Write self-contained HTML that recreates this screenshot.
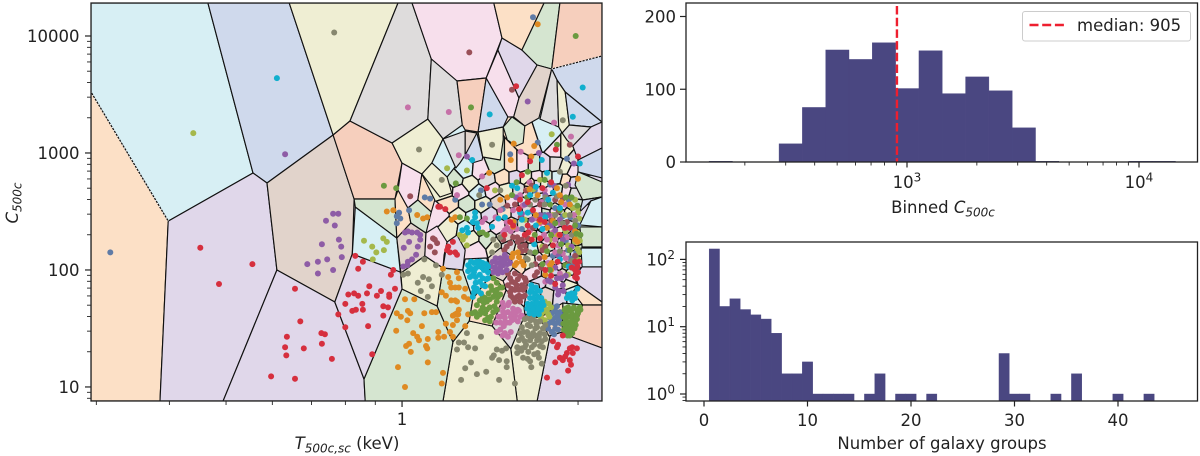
<!DOCTYPE html>
<html>
<head>
<meta charset="utf-8">
<title>Voronoi binning chart</title>
<style>
html,body{margin:0;padding:0;background:#fff;}
#chart{display:block;width:1200px;height:456px;font-family:"DejaVu Sans","Liberation Sans",sans-serif;fill:#222;}
text{font-size:16.5px;}
</style>
</head>
<body>
<svg id="chart" xmlns="http://www.w3.org/2000/svg" width="1200" height="456" viewBox="0 0 1200 456">
<defs><clipPath id="plot-clip"><rect x="91" y="3" width="511" height="398"/></clipPath></defs>
<g id="scatter-panel"></g>
<g id="hist-top"></g>
<g id="hist-bottom"></g>
<text x="347" y="449" text-anchor="middle"><tspan font-style="italic">T</tspan><tspan font-size="12" dy="3.5" font-style="italic">500c,sc</tspan><tspan dy="-3.5"> (keV)</tspan></text>
<text transform="translate(18,203) rotate(-90)" text-anchor="middle"><tspan font-style="italic">C</tspan><tspan font-size="12" dy="3.5" font-style="italic">500c</tspan></text>
<text x="943" y="213" text-anchor="middle">Binned <tspan font-style="italic">C</tspan><tspan font-size="12" dy="3.5" font-style="italic">500c</tspan></text>
<text x="942" y="449" text-anchor="middle">Number of galaxy groups</text>
</svg>
<script>
// ---------- data (log10 T in keV, log10 C500c) ----------
const palette=['#d7eff4','#cfd9ec','#efeed3','#fce0c6','#e0d7ea','#e1d3cb','#f6cfbd','#dedcdc','#f7dfec','#d5e5d0'];
const xTicksLeft=[1];
const xMinorLeft=[0.3,0.4,0.5,0.6,0.7,0.8,0.9,2];
const yTicksLeft=[10,100,1000,10000];
const yTickLabelsLeft=['10','100','1000','10000'];
const yMinorLeft=[8,9,20,30,40,50,60,70,80,90,200,300,400,500,600,700,800,900,2000,3000,4000,5000,6000,7000,8000,9000];
// cells: [palette index, [logT, logC, ...]]
const largeCells=[
[0,[-.532,4.282,-.332,4.282,-.255,2.829,-.400,2.418,-.532,3.521]],
[1,[-.332,4.282,-.193,4.282,-.118,3.154,-.231,2.743,-.255,2.829]],
[2,[-.193,4.282,-.007,4.282,-.089,3.273,-.118,3.154]],
[3,[-.532,3.521,-.400,2.418,-.414,.880,-.532,.880]],
[4,[-.400,2.418,-.255,2.829,-.231,2.743,-.214,2.0,-.306,.880,-.414,.880]],
[5,[-.231,2.743,-.118,3.154,-.082,2.607,-.085,2.137,-.115,1.726,-.214,2.0]],
[4,[-.214,2.0,-.115,1.726,-.065,1.068,-.063,.880,-.306,.880]],
[6,[-.118,3.154,-.089,3.273,-.017,3.085,0,2.914,-.012,2.607,-.082,2.607]],
[7,[-.007,4.282,.017,4.282,.050,3.803,.044,3.290,-.017,3.085,-.089,3.273]],
[8,[.017,4.282,.157,4.282,.171,3.983,.144,3.641,.094,3.615,.050,3.803]],
[7,[.050,3.803,.094,3.615,.103,3.239,.070,3.120,.044,3.290]],
[6,[.094,3.615,.144,3.641,.130,3.179,.108,3.197,.103,3.239]],
[1,[.144,3.641,.181,3.308,.173,3.222,.130,3.179]],
[8,[.164,3.880,.200,3.470,.191,3.308,.181,3.308,.144,3.641]],
[4,[.171,3.983,.205,3.880,.231,3.752,.200,3.470,.164,3.880]],
[3,[.157,4.282,.243,4.282,.205,3.880,.171,3.983]],
[9,[.243,4.282,.270,4.282,.256,3.718,.231,3.752,.205,3.880]],
[6,[.270,4.282,.342,4.282,.342,3.829,.256,3.718]],
[1,[.256,3.718,.342,3.829,.342,3.265,.279,3.521,.265,3.624]],
[5,[.231,3.752,.256,3.718,.234,3.299,.210,3.231,.191,3.308,.200,3.470]],
[7,[.256,3.718,.265,3.624,.268,3.222,.236,3.290]],
[2,[.265,3.624,.279,3.521,.286,3.239,.274,3.171,.268,3.222]],
[1,[.279,3.521,.342,3.265,.323,3.222,.286,3.239]],
[4,[.342,3.265,.342,3.043,.301,2.940,.292,3.060,.323,3.222]],
[7,[.286,3.239,.323,3.222,.292,3.060,.282,3.111,.274,3.171]],
[1,[.342,3.043,.342,2.786,.301,2.838,.301,2.940]],
[9,[.301,2.838,.342,2.752,.342,2.624,.309,2.598,.296,2.726]],
[1,[.309,2.598,.342,2.624,.323,2.590,.304,2.496]],
[0,[.323,2.590,.342,2.624,.342,2.368,.304,2.385]],
[9,[.304,2.368,.342,2.368,.342,2.196,.308,2.196]],
[0,[.306,2.188,.342,2.188,.342,2.026,.308,2.026]],
[4,[.308,2.026,.342,2.026,.342,1.726,.301,1.872,.297,1.957]],
[3,[.301,1.872,.342,1.726,.342,1.701,.309,1.701,.292,1.812]],
[9,[.275,1.718,.309,1.701,.291,1.427,.274,1.470]],
[6,[.309,1.701,.342,1.701,.342,1.333,.291,1.427]],
[4,[.253,1.436,.274,1.470,.291,1.427,.342,1.333,.342,.880,.231,.880]],
[2,[.210,1.615,.236,1.590,.253,1.436,.231,.880,.197,.880,.186,1.325]],
[7,[.178,1.829,.209,1.684,.210,1.615,.186,1.325,.154,1.521]],
[2,[.115,1.564,.154,1.521,.186,1.325,.197,.880,.070,.880,.087,1.385]],
[9,[0,1.837,.060,1.692,.087,1.385,.070,.880,-.063,.880,-.065,1.068]],
[9,[.070,2.017,.104,2.0,.121,1.752,.115,1.564,.087,1.385,.060,1.692]],
[2,[.039,2.120,.070,2.017,.060,1.692,0,1.837,-.002,1.974]],
[4,[-.085,2.137,-.003,1.983,0,1.837,-.065,1.068,-.115,1.726]],
[0,[-.080,2.538,-.009,2.273,-.003,1.983,-.085,2.137]],
[9,[-.082,2.607,-.012,2.607,-.009,2.273,-.080,2.538]],
[5,[-.009,2.273,.015,2.402,.041,2.316,.039,2.120,-.002,1.974]],
[3,[-.007,2.684,-.012,2.607,-.009,2.273,.015,2.402,.010,2.530]],
[8,[0,2.914,.034,2.820,.027,2.598,.010,2.530,-.007,2.684]],
[3,[.034,2.820,.056,2.598,.050,2.496,.027,2.598]],
[9,[.010,2.530,.027,2.598,.050,2.496,.041,2.316,.015,2.402]],
[2,[-.017,3.085,.044,3.290,.070,3.120,.051,2.914,.034,2.820,0,2.914]],
[0,[.070,3.120,.092,2.889,.077,2.795,.051,2.914]],
[2,[.051,2.914,.077,2.795,.085,2.658,.065,2.624,.034,2.820]],
[7,[.070,3.120,.108,3.188,.108,2.983,.099,2.914,.092,2.872]],
[5,[.108,3.188,.128,3.171,.125,3.128,.108,2.983]],
[1,[.128,3.171,.138,2.966,.137,2.940,.120,2.914,.108,2.983]],
[2,[.130,3.179,.173,3.222,.173,3.111,.168,2.940,.138,2.966]],
[9,[.173,3.222,.188,3.308,.210,3.231,.207,3.085,.195,3.060,.180,3.111]],
[8,[.041,2.316,.060,2.376,.077,2.239,.072,2.128,.070,2.017,.039,2.120]],
[4,[.077,2.239,.094,2.299,.108,2.171,.104,2.0,.070,2.017]],
[0,[.108,2.094,.145,2.102,.152,1.957,.121,1.752,.104,2.0]],
[3,[.152,1.957,.178,1.829,.154,1.521,.115,1.564,.121,1.752]],
[5,[.168,2.188,.186,2.128,.190,2.017,.173,1.906,.152,1.957,.147,2.102]],
[8,[.173,1.906,.190,2.017,.215,1.923,.209,1.684,.178,1.829]],
[1,[.215,1.906,.234,1.880,.239,1.744,.236,1.590,.210,1.624,.209,1.684]],
[2,[.239,1.744,.258,1.667,.236,1.590]],
[3,[.258,1.667,.275,1.718,.274,1.470,.251,1.436,.236,1.590]]
];
const dashedRidges=[[-.532,3.521,-.400,2.418],[.256,3.718,.342,3.829]];
// generators of the small cells in the dense core: logT, logC, palette index
const coreSites=[
[.222,3.07,3],[.246,3.11,0],[.263,3.03,8],[.280,3.03,2],[.296,2.96,7],[.188,2.90,3],[.205,2.90,8],[.162,2.90,9],[.108,2.85,0],[.133,2.84,8],[.227,2.90,9],[.244,2.90,4],[.262,2.90,7],[.279,2.87,2],[.292,2.84,8],
[.091,2.77,9],[.116,2.74,2],[.145,2.77,7],[.173,2.79,3],[.193,2.79,4],[.212,2.79,2],[.231,2.79,8],[.248,2.79,9],[.265,2.79,0],[.280,2.77,3],[.294,2.75,4],
[.074,2.68,2],[.099,2.67,8],[.130,2.66,0],[.154,2.68,8],[.179,2.68,2],[.200,2.68,7],[.219,2.68,3],[.236,2.68,4],[.251,2.68,8],[.267,2.68,9],[.280,2.67,8],[.294,2.65,7],
[.082,2.56,3],[.111,2.56,9],[.138,2.56,2],[.166,2.58,5],[.188,2.59,8],[.209,2.59,0],[.226,2.59,8],[.241,2.59,2],[.255,2.59,1],[.268,2.59,4],[.280,2.58,3],[.292,2.57,9],
[.065,2.47,8],[.096,2.46,2],[.121,2.45,0],[.150,2.47,4],[.176,2.49,3],[.197,2.49,4],[.215,2.50,7],[.232,2.50,8],[.246,2.50,9],[.260,2.50,8],[.272,2.50,5],[.284,2.50,2],[.296,2.49,4],
[.082,2.38,2],[.108,2.36,0],[.137,2.36,8],[.164,2.38,8],[.188,2.39,3],[.207,2.39,9],[.224,2.39,0],[.239,2.39,8],[.253,2.39,2],[.265,2.39,4],[.277,2.39,8],[.287,2.39,7],[.299,2.38,9],
[.116,2.27,2],[.147,2.26,9],[.176,2.27,5],[.202,2.28,8],[.222,2.29,3],[.238,2.29,4],[.251,2.29,7],[.263,2.29,8],[.275,2.29,9],[.287,2.29,1],[.299,2.27,0],
[.126,2.17,8],[.159,2.21,2],[.181,2.21,7],[.205,2.18,2],[.224,2.17,0],[.241,2.19,3],[.255,2.19,9],[.267,2.19,4],[.279,2.19,8],[.291,2.19,2],[.301,2.17,9],
[.202,2.09,3],[.219,2.09,2],[.236,2.10,8],[.251,2.09,4],[.263,2.07,7],[.275,2.09,8],[.287,2.08,1],[.299,2.07,4],
[.231,1.98,8],[.246,1.98,9],[.262,1.98,1],[.275,1.98,5],[.287,1.98,9],[.301,1.96,4],
[.238,1.90,4],[.255,1.88,7],[.268,1.89,8],[.284,1.89,2],[.248,1.80,5],[.270,1.79,4],[.291,1.80,0],
[.248,2.54,8],[.262,2.54,2],[.275,2.54,4],[.289,2.54,9],
[.241,2.45,7],[.255,2.45,8],[.267,2.45,5],[.279,2.45,0],[.291,2.45,2],
[.244,2.34,4],[.258,2.34,9],[.270,2.34,2],[.282,2.34,8],[.294,2.34,1],
[.248,2.24,8],[.260,2.24,3],[.272,2.24,7],[.284,2.24,4],[.296,2.24,9],
[.246,2.14,2],[.258,2.14,8],[.270,2.14,1],[.282,2.14,9],[.294,2.14,4],
[.244,2.03,5],[.256,2.03,4],[.268,2.03,8],[.280,2.03,7],[.292,2.03,1],
[.262,1.93,9],[.274,1.93,4],[.287,1.93,8],
[.214,2.63,8],[.226,2.63,9],[.238,2.63,0],[.221,2.74,3],[.231,2.74,4],[.243,2.74,2]
];
// scatter points per colour: logT, logC pairs
const redPoints=[-.345,2.19,-.256,2.05,-.313,1.88,-.183,1.84,-.174,1.56,-.197,1.43,-.200,1.34,-.198,1.27,-.168,1.33,-.138,1.46,-.132,1.45,-.137,1.37,-.120,1.24,-.224,1.09,-.183,1.07,-.109,1.62,-.097,1.51,-.080,2.12,-.067,2.07,-.075,2.01,-.015,2.00,-.019,1.96,-.056,1.86,-.036,1.82,-.012,1.84,-.092,1.79,-.082,1.80,-.075,1.78,-.060,1.80,-.043,1.78,-.022,1.79,-.022,1.77,-.097,1.71,-.068,1.71,-.067,1.66,-.079,1.66,-.085,1.65,-.032,1.69,-.024,1.68,-.032,1.61,-.058,1.52,-.051,1.28,.065,2.54,.074,2.52,.079,2.20,.087,2.24,.091,2.15,.082,2.15,.094,2.13,.077,2.17,.258,1.39,.267,1.36,.265,1.34,.291,1.34,.299,1.33,.282,1.29,.292,1.29,.287,1.33,.270,1.25,.262,1.21,.275,1.23,.287,1.23,.289,1.19,.284,1.14,.248,1.08,.267,1.04,.275,1.44,.279,1.26,.296,2.00,.299,1.93,.301,1.98,.303,2.07,.296,2.07,.195,3.57,.301,2.97,.263,3.03,.219,2.93,.205,2.81,.145,2.70,.062,2.54,.202,2.60,.224,2.51,.244,2.41,.215,2.38,.270,2.30,.258,2.21,.236,2.27,.287,2.36,.185,2.41,.210,2.30,.216,2.32,.222,2.26,.175,2.30,.190,2.38,.215,2.58,.240,2.70,.278,2.36,.266,2.07,.262,1.88,.255,1.95,.236,2.43,.255,2.75,.290,2.02,.300,2.03,.298,1.97,.296,1.94,.245,2.00,.200,2.52];
const orangePoints=[-.026,2.50,-.015,2.51,.026,2.47,.036,2.44,.043,2.45,.005,1.75,.021,1.75,-.009,1.63,-.002,1.60,.010,1.65,.014,1.63,.038,1.63,.051,1.64,.058,1.64,.009,1.57,.034,1.52,-.010,1.48,.019,1.46,.026,1.43,.029,1.40,.044,1.41,.062,1.47,.062,1.42,.072,1.43,.012,1.37,.007,1.35,.041,1.35,.043,1.33,.015,1.30,.044,1.21,-.007,1.17,.070,1.12,.068,1.03,.005,1.00,.070,2.01,.094,1.98,.079,1.94,.097,1.93,.082,1.89,.091,1.85,.097,1.85,.108,1.84,.084,1.85,.068,1.81,.075,1.78,.106,1.77,.084,1.74,.094,1.73,.091,1.74,.113,1.75,.097,1.66,.094,1.63,.091,1.62,.096,1.62,.087,1.61,.113,1.62,.094,1.57,.087,1.53,.075,1.54,.108,1.52,.082,1.47,.087,1.43,.232,4.10,.191,3.08,.226,3.06,.186,2.94,.301,2.78,.149,2.83,.265,2.70,.221,2.97,.198,2.15,.188,2.11,.205,2.07,.193,2.04,.256,2.06,.190,2.37,.248,2.36,.091,2.45,.085,2.43,.191,2.41,.253,2.04,.244,2.11,.168,2.60,.270,2.64,.232,2.64,.287,2.56,.296,2.26,.229,2.47,.272,2.58,.190,2.14,.200,2.11,.196,2.06,.208,2.04,.258,2.42,.235,2.41,.218,2.69,.180,2.62,.296,2.33,.300,2.24,.255,2.00,.268,2.30,.245,1.96];
const olivePoints=[-.116,4.03,.029,3.03,.068,2.77,.154,3.07,.275,3.28,.168,2.68,.132,2.64,.038,2.09,.058,2.04,.002,1.96,.010,1.97,.068,1.96,.036,1.94,.046,1.92,.027,1.89,.051,1.86,.032,1.82,.044,1.77,.111,1.46,.135,1.43,.097,1.38,.106,1.38,.113,1.34,.125,1.33,.094,1.32,.162,1.32,.171,1.31,.178,1.33,.157,1.27,.154,1.25,.166,1.23,.179,1.22,.118,1.21,.108,1.16,.144,1.13,.128,1.11,.101,1.06,.166,1.06,.193,1.03,.179,1.17,.214,1.59,.224,1.60,.236,1.56,.205,1.51,.215,1.53,.231,1.51,.241,1.50,.202,1.46,.214,1.47,.224,1.46,.236,1.46,.244,1.45,.205,1.42,.219,1.40,.231,1.40,.239,1.39,.197,1.34,.210,1.34,.222,1.34,.241,1.34,.197,1.29,.232,1.29,.207,1.25,.219,1.22,.239,1.20,.221,1.17,.229,1.56,.219,1.52,.229,1.44,.210,1.39,.156,2.26,.162,2.21,.168,2.28,.154,2.15,.219,2.15,.215,2.09,.222,2.04,.287,2.47,.270,2.84,.244,2.56,.219,2.56,.262,2.47,.210,1.58,.220,1.57,.228,1.50,.208,1.47,.216,1.44,.222,1.43,.234,1.43,.245,1.41,.200,1.40,.212,1.36,.226,1.36,.236,1.35,.204,1.31,.216,1.30,.226,1.28,.234,1.25,.215,1.24,.230,1.54,.245,1.53,.205,1.33,.275,2.40,.290,2.30,.296,2.42,.265,2.63,.280,2.72,.228,2.60,.212,2.10,.245,2.62,.291,2.08,.270,2.16];
const pinkPoints=[.010,3.39,.080,3.35,.097,2.98,.260,3.26,.289,3.14,.203,3.01,.137,2.80,.094,2.64,.173,1.68,.181,1.70,.190,1.67,.198,1.66,.205,1.61,.173,1.64,.181,1.64,.193,1.61,.168,1.60,.176,1.59,.188,1.57,.198,1.56,.168,1.55,.179,1.55,.168,1.49,.176,1.46,.181,1.43,.162,1.47,.202,1.60,.164,1.66,.176,2.34,.173,2.32,.179,2.41,.137,2.41,.142,2.44,.219,2.34,.236,2.40,.258,2.32,.270,2.40,.282,2.28,.248,2.26,.267,2.21,.262,2.15,.190,2.51,.168,2.51,.202,2.64,.279,2.56,.244,2.68,.183,1.72,.186,1.60,.195,1.64,.176,1.63,.184,1.55,.192,1.58,.174,1.52,.190,1.63,.200,1.65,.172,1.72,.165,1.60,.172,1.44,.186,1.47,.175,1.55,.161,1.55,.180,2.36,.186,2.33,.196,2.35,.160,2.45,.226,2.44,.243,2.30,.262,2.26,.275,2.14,.255,2.46,.238,2.58,.206,2.55,.218,2.75,.280,2.10,.270,1.97,.245,1.90,.294,2.47,.250,2.06];
const brownPoints=[.115,3.86,.188,3.54,.014,2.63,.053,2.27,.056,2.26,.060,2.23,.056,2.15,.048,2.20,.181,1.97,.193,1.97,.202,1.95,.210,1.93,.185,1.93,.193,1.89,.205,1.87,.181,1.87,.193,1.83,.207,1.83,.185,1.81,.197,1.77,.205,1.77,.193,1.73,.202,1.73,.205,2.26,.198,2.24,.197,2.28,.210,2.21,.202,2.20,.173,2.26,.185,2.23,.179,2.20,.224,2.36,.231,1.98,.238,2.02,.227,1.95,.212,2.68,.193,2.56,.262,2.60,.236,2.56,.282,2.41,.287,3.07,.188,1.90,.198,1.92,.212,1.90,.200,1.83,.210,1.85,.187,1.84,.200,1.78,.190,1.76,.210,1.78,.186,1.78,.196,1.87,.190,2.28,.215,2.27,.212,2.17,.205,2.16,.175,2.17,.240,2.17,.235,2.10,.255,2.42,.268,2.50,.275,2.61,.245,2.20,.228,2.05,.284,2.05,.296,2.12,.180,2.55,.203,2.45,.222,2.72];
const greenPoints=[.118,3.39,-.031,2.72,-.010,2.70,.297,4.00,.092,2.74,.265,3.07,.156,1.93,.162,1.89,.154,1.83,.162,1.83,.171,1.85,.156,1.77,.164,1.77,.138,1.77,.133,1.74,.145,1.73,.128,1.70,.138,1.68,.162,1.73,.125,1.64,.133,1.62,.142,1.63,.147,1.59,.156,1.64,.162,1.66,.150,1.56,.284,1.68,.294,1.68,.304,1.68,.280,1.62,.291,1.62,.301,1.63,.280,1.57,.291,1.57,.299,1.58,.280,1.52,.291,1.52,.297,1.53,.280,1.47,.291,1.46,.287,1.44,.285,1.65,.296,1.61,.285,1.55,.285,1.50,.296,1.56,.138,2.32,.133,2.32,.145,2.30,.253,2.56,.296,2.38,.287,2.17,.279,2.04,.244,2.77,.215,2.84,.188,2.64,.227,2.30,.270,2.51,.253,2.00,.099,2.45,.111,2.44,.168,1.79,.152,1.86,.160,1.80,.140,1.72,.150,1.75,.135,1.65,.145,1.66,.128,1.60,.120,1.63,.142,1.57,.152,1.60,.158,1.69,.148,1.80,.142,1.76,.168,1.85,.150,1.68,.280,1.67,.290,1.66,.300,1.65,.276,1.60,.288,1.60,.298,1.60,.276,1.54,.290,1.54,.283,1.60,.277,1.49,.288,1.48,.295,1.50,.283,1.44,.278,1.66,.305,1.66,.300,2.55,.255,2.30,.240,2.05,.228,2.15,.272,2.22,.290,2.62,.262,2.40,.214,2.62,.196,2.75,.280,2.62,.298,2.31,.305,2.30,.248,2.16];
const cyanPoints=[-.214,3.64,.150,3.33,.292,3.31,.309,3.56,.304,2.91,.120,2.94,.239,2.94,.248,2.83,.229,2.71,.197,2.70,.113,2.04,.123,2.06,.133,2.07,.144,2.05,.113,1.99,.125,2.01,.140,2.00,.147,1.98,.116,1.94,.133,1.96,.144,1.92,.126,1.89,.138,1.87,.130,1.82,.121,1.77,.118,2.01,.130,2.03,.221,1.87,.229,1.85,.219,1.81,.227,1.80,.236,1.82,.219,1.76,.229,1.74,.238,1.76,.215,1.71,.226,1.69,.236,1.70,.219,1.65,.229,1.64,.238,1.66,.214,1.67,.103,2.34,.111,2.36,.113,2.32,.125,2.45,.128,2.40,.121,2.41,.154,2.37,.287,1.77,.292,1.77,.291,1.74,.282,1.76,.202,2.49,.219,2.64,.229,2.38,.250,2.60,.270,2.09,.188,2.72,.118,2.07,.128,2.07,.138,2.06,.147,2.03,.116,2.02,.123,1.98,.137,2.02,.144,2.00,.120,1.95,.126,1.94,.138,1.93,.147,1.93,.123,1.85,.133,1.90,.142,1.86,.128,1.84,.135,1.80,.123,1.81,.221,1.83,.231,1.82,.224,1.76,.233,1.77,.222,1.71,.231,1.72,.240,1.73,.224,1.66,.233,1.67,.242,1.70,.219,1.70,.226,1.62,.234,1.62,.218,1.63,.205,2.43,.176,2.45,.215,2.49,.245,2.45,.258,2.66,.240,2.35,.285,2.03,.300,1.84,.295,1.80,.290,1.80,.285,1.79,.296,1.76,.270,2.53,.226,2.22,.165,2.44,.125,2.49,.130,2.36];
const purplePoints=[-.200,2.99,-.118,2.48,-.109,2.48,-.130,2.42,-.115,2.38,-.108,2.26,-.137,2.22,-.104,2.20,-.103,2.11,-.128,2.09,-.144,2.07,-.162,2.05,-.118,2.00,-.144,1.97,.005,2.32,.010,2.33,.017,2.32,.026,2.32,.031,2.30,.031,2.26,.012,2.24,.027,2.20,.003,2.19,.024,2.13,.017,2.09,.009,2.04,.002,2.03,.010,2.07,.168,2.10,.176,2.09,.162,2.06,.173,2.04,.168,2.02,.159,2.02,.179,2.00,.164,1.97,.156,1.98,.185,2.06,.215,3.44,.111,2.97,.234,3.00,.294,2.91,.210,2.56,.236,2.47,.256,2.38,.275,2.26,.262,2.02,.275,1.87,.267,1.79,.250,1.91,.294,2.36,.265,1.93,.172,2.07,.180,2.05,.168,2.06,.165,2.00,.172,1.98,.160,2.10,.152,2.03,.155,2.07,.176,2.13,.182,2.10,.205,2.48,.250,2.47,.262,2.34,.270,2.43,.280,2.36,.290,2.20,.268,2.12,.254,1.90,.280,1.95,.262,1.85,.272,1.93,.245,2.64,.260,2.72,.222,2.43,.195,2.62,.284,2.73,.268,1.82,.276,1.82];
const slatePoints=[-.499,2.15,.224,4.16,.232,3.09,.185,2.99,.039,2.62,.048,2.61,.282,2.95,-.005,2.49,-.009,2.46,-.003,2.44,-.009,2.40,.012,2.51,.258,1.68,.265,1.69,.256,1.63,.265,1.63,.270,1.64,.253,1.59,.262,1.59,.270,1.59,.258,1.55,.267,1.55,.262,1.50,.256,1.47,.267,1.49,.279,2.30,.284,2.17,.292,2.04,.287,2.10,.244,2.47,.227,2.68,.193,2.41,.150,2.56,.253,2.73,.137,2.56,.301,2.38,.091,2.60,.262,1.65,.272,1.61,.256,1.56,.250,1.54,.262,1.54,.272,1.54,.260,1.45,.250,1.50,.269,1.58,.267,1.62,.268,2.30,.280,2.25,.292,2.35,.275,2.46,.262,2.53,.250,2.38,.288,2.45,.298,2.15,.262,2.14,.240,2.58,.222,2.50,.205,2.35,.172,2.52,.135,2.68,.285,2.60,.258,2.12];
const limePoints=[-.357,3.17,.256,3.16,-.065,2.25,-.051,2.20,-.032,2.27,-.026,2.24,-.044,2.15,-.031,2.17,-.050,2.09,.077,2.87,.111,2.85,.244,1.73,.255,1.68,.243,1.68,.250,1.62,.239,1.63,.244,1.57,.236,1.61,.251,1.71,.099,2.30,.104,2.26,.111,2.21,.108,2.29,.301,2.49,.303,2.44,.299,2.28,.304,2.25,.303,2.15,.301,2.09,.210,2.43,.279,2.47,.253,2.26,.284,2.21,.159,2.68,.236,2.77,.262,2.30,.296,2.60,.244,1.65,.238,1.59,.248,1.66,.252,1.60,.242,1.70,.300,2.32,.296,2.24,.300,2.18,.270,2.43,.240,2.20,.258,2.47,.300,2.53,.292,2.53,.224,2.69,.280,2.33,.270,1.95,.284,1.96];
// top histogram
const binStartLog=2.147;
const binWidthLog=0.1005;
const binnedCounts=[1,0,0,25,75,154,141,164,101,153,94,117,98,47,1,0,0,0,1,1];
const medianValue=905;
const yTicksTop=[0,100,200];
const xMajorTop=[1000,10000];
const xMajorTopExp=['3','4'];
const xMinorTop=[200,300,400,500,600,700,800,900,2000,3000,4000,5000,6000,7000,8000,9000];
// bottom histogram
const groupNumbers=[1,2,3,4,5,6,7,8,9,10,11,12,13,14,16,17,19,20,22,29,30,31,34,36,40,43];
const groupCounts=[143,20,26,18,15,13,8,2,2,3,1,1,1,1,1,2,1,1,1,4,1,1,1,2,1,1];
const xTicksBottom=[0,10,20,30,40];
const yTicksBottom=[1,10,100];
const yTicksBottomExp=['0','1','2'];
const yMinorBottom=[.8,.9,2,3,4,5,6,7,8,9,20,30,40,50,60,70,80,90];

// ---------- helpers / axis functions ----------
const NS='http://www.w3.org/2000/svg';
function mk(tag,attrs,parent,txt){
  const e=document.createElementNS(NS,tag);
  for(const k in attrs)e.setAttribute(k,attrs[k]);
  if(txt!==undefined)e.textContent=txt;
  parent.appendChild(e);
  return e;
}
const INK='#222';
const BAR='#4a4781';
const xT=v=>91+(v+0.532)/0.874*511;       // log10 T -> px
const yC=v=>401-(v-0.880)/3.402*398;      // log10 C -> px
const xBin=v=>907+(v-3)*232;              // log10 C500c -> px (top right)
const yBin=v=>162-v*0.7275;
const xGrp=v=>704+v*10.35;                // groups -> px (bottom right)
const yGrp=v=>394-Math.log10(v)*67.3;

// ---------- left panel ----------
const panel=document.getElementById('scatter-panel');
const plot=mk('g',{'clip-path':'url(#plot-clip)'},panel);



function clip(poly,a,b,c){
  const out=[];
  for(let i=0;i<poly.length;i++){
    const p=poly[i],q=poly[(i+1)%poly.length];
    const dp=a*p[0]+b*p[1]-c,dq=a*q[0]+b*q[1]-c;
    if(dp<=0)out.push(p);
    if((dp<0&&dq>0)||(dp>0&&dq<0)){
      const t=dp/(dp-dq);
      out.push([p[0]+t*(q[0]-p[0]),p[1]+t*(q[1]-p[1])]);
    }
  }
  return out;
}
const corePx=coreSites.map(s=>[xT(s[0]),yC(s[1]),s[2]]);
corePx.forEach((s,i)=>{
  let poly=[[91,3],[602,3],[602,401],[91,401]];
  corePx.forEach((o,j)=>{
    if(i===j)return;
    const a=o[0]-s[0],b=o[1]-s[1];
    poly=clip(poly,a,b,a*(s[0]+o[0])/2+b*(s[1]+o[1])/2);
  });
  const el=mk('polygon',{points:poly.map(p=>p[0].toFixed(1)+','+p[1].toFixed(1)).join(' '),fill:palette[s[2]],stroke:'#111','stroke-width':1.3},plot);
  
  
});
largeCells.forEach(cell=>{
  const pts=[];
  for(let i=0;i<cell[1].length;i+=2)pts.push(xT(cell[1][i]).toFixed(1)+','+yC(cell[1][i+1]).toFixed(1));
  const el=mk('polygon',{points:pts.join(' '),fill:palette[cell[0]],stroke:'#111','stroke-width':1.15,'stroke-linejoin':'round'},plot);
  
  
});
dashedRidges.forEach(r=>{
  const el=mk('line',{x1:xT(r[0]),y1:yC(r[1]),x2:xT(r[2]),y2:yC(r[3]),stroke:'#fff','stroke-width':1.3,'stroke-dasharray':'1.2 2.2'},plot);
  
  
});
const seriesList=[[slatePoints,'#5f7ba6'],[limePoints,'#a5b84b'],[pinkPoints,'#c671a8'],[brownPoints,'#9a5058'],[purplePoints,'#8e5ca6'],[olivePoints,'#87876f'],[orangePoints,'#df8a22'],[greenPoints,'#6b9a40'],[cyanPoints,'#11afce'],[redPoints,'#d62f3e']];
seriesList.forEach(sr=>{
  const g=mk('g',{fill:sr[1]},plot);
  
  
  for(let i=0;i<sr[0].length;i+=2){
    const dot=mk('circle',{cx:xT(sr[0][i]).toFixed(1),cy:yC(sr[0][i+1]).toFixed(1),r:3},g);
    
    
  }
});
function frame(parent,x,y,w,h){
  const f=mk('rect',{x:x,y:y,width:w,height:h,fill:'none',stroke:INK,'stroke-width':1.3},parent);
  
  
}
function tick(parent,x1,y1,x2,y2,w){
  const t=mk('line',{x1:x1,y1:y1,x2:x2,y2:y2,stroke:INK,'stroke-width':w},parent);
  
  
}
frame(panel,91,3,511,398);
xMinorLeft.forEach(v=>{tick(panel,xT(Math.log10(v)),401,xT(Math.log10(v)),405,0.9);});
xTicksLeft.forEach(v=>{
  tick(panel,xT(Math.log10(v)),401,xT(Math.log10(v)),407,1.2);
  const l=mk('text',{x:xT(Math.log10(v)),y:425,'text-anchor':'middle'},panel,String(v));
  
  
});
yMinorLeft.forEach(v=>{tick(panel,87,yC(Math.log10(v)),91,yC(Math.log10(v)),0.9);});
yTicksLeft.forEach((v,i)=>{
  tick(panel,85,yC(Math.log10(v)),91,yC(Math.log10(v)),1.2);
  const l=mk('text',{x:79.5,y:yC(Math.log10(v))+6,'text-anchor':'end'},panel,yTickLabelsLeft[i]);
  
  
});

// ---------- top histogram ----------
const top_=document.getElementById('hist-top');
binnedCounts.forEach((c,i)=>{
  if(!c)return;
  const x0=xBin(binStartLog+i*binWidthLog),x1=xBin(binStartLog+(i+1)*binWidthLog);
  const b=mk('rect',{x:x0,y:yBin(c),width:x1-x0,height:162-yBin(c),fill:BAR,stroke:BAR,'stroke-width':0.4},top_);
  
  
});
const med=mk('line',{x1:xBin(Math.log10(medianValue)),y1:6,x2:xBin(Math.log10(medianValue)),y2:162,stroke:'#ee1f2f','stroke-width':2.4,'stroke-dasharray':'8.5 3.2'},top_);


frame(top_,686,3,511.5,159);
xMinorTop.forEach(v=>{tick(top_,xBin(Math.log10(v)),162,xBin(Math.log10(v)),165.5,0.9);});
xMajorTop.forEach((v,i)=>{
  const x=xBin(Math.log10(v));
  tick(top_,x,162,x,167.5,1.2);
  const l=mk('text',{x:x,y:188,'text-anchor':'middle'},top_,'10');
  
  
  const s=mk('tspan',{'font-size':'12',dy:'-6.5'},l,xMajorTopExp[i]);
  
  
});
yTicksTop.forEach(v=>{
  tick(top_,680,yBin(v),686,yBin(v),1.2);
  const l=mk('text',{x:676,y:yBin(v)+6,'text-anchor':'end'},top_,String(v));
  
  
});
const legend=mk('g',{},top_);


const lb=mk('rect',{x:1022.5,y:11.5,width:168,height:29.5,rx:2.5,fill:'#fff','fill-opacity':0.9,stroke:'#ccc','stroke-width':1},legend);


const ll=mk('line',{x1:1029.5,y1:25,x2:1064,y2:25,stroke:'#ee1f2f','stroke-width':2.4,'stroke-dasharray':'9 3.7'},legend);


const lt=mk('text',{x:1077,y:31},legend,'median: '+medianValue);



// ---------- bottom histogram ----------
const bot=document.getElementById('hist-bottom');
groupNumbers.forEach((n,i)=>{
  const x0=xGrp(n-0.5),x1=xGrp(n+0.5),y=yGrp(groupCounts[i]);
  const b=mk('rect',{x:x0,y:y,width:x1-x0,height:401-y,fill:BAR,stroke:BAR,'stroke-width':0.4},bot);
  
  
});
frame(bot,686,242,511.5,159);
xTicksBottom.forEach(v=>{
  tick(bot,xGrp(v),401,xGrp(v),406.5,1.2);
  const l=mk('text',{x:xGrp(v),y:426,'text-anchor':'middle'},bot,String(v));
  
  
});
yMinorBottom.forEach(v=>{tick(bot,682.5,yGrp(v),686,yGrp(v),0.9);});
yTicksBottom.forEach((v,i)=>{
  tick(bot,680,yGrp(v),686,yGrp(v),1.2);
  const l=mk('text',{x:675,y:yGrp(v)+6,'text-anchor':'end'},bot,'10');
  
  
  const s=mk('tspan',{'font-size':'12',dy:'-6.5'},l,yTicksBottomExp[i]);
  
  
});
</script>
</body>
</html>
